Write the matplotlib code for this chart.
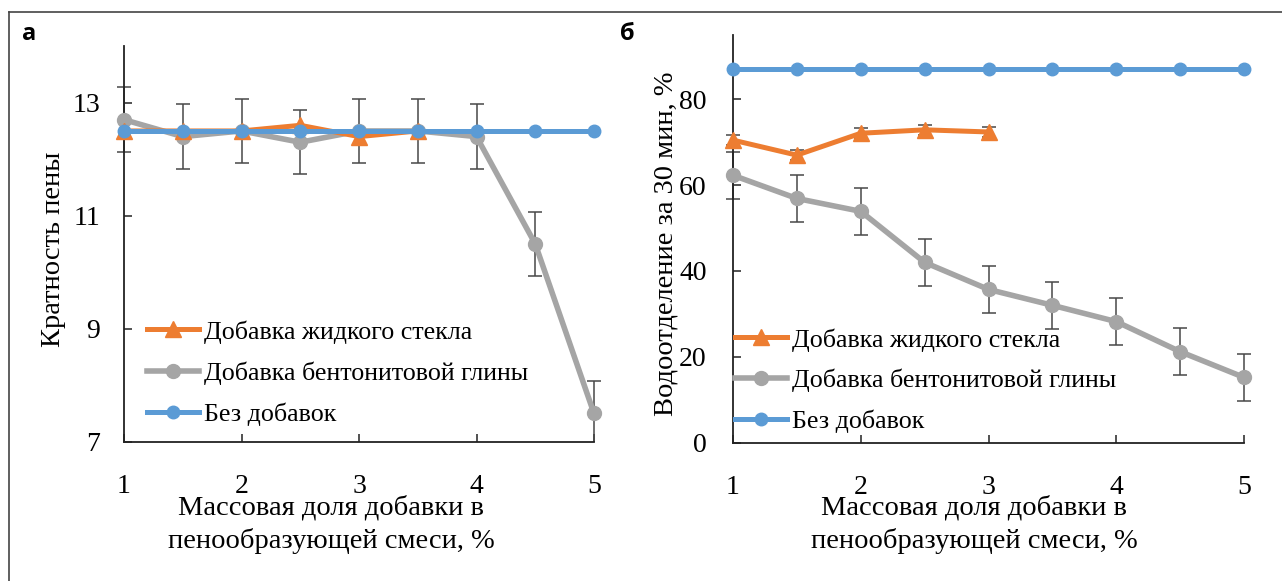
import matplotlib
matplotlib.use("Agg")
import matplotlib.pyplot as plt
from matplotlib.lines import Line2D
from matplotlib.patches import Rectangle
import numpy as np

plt.rcParams['font.family'] = 'serif'
plt.rcParams['font.serif'] = ['Liberation Serif', 'Times New Roman', 'DejaVu Serif']

W, H = 1282, 581
DPI = 100

# ---------------- data ----------------
x_all = [1, 1.5, 2, 2.5, 3, 3.5, 4, 4.5, 5]

# panel a: foam expansion ratio
a_glass_x = [1, 1.5, 2, 2.5, 3, 3.5]
a_glass_y = [12.5, 12.5, 12.5, 12.6, 12.4, 12.5]
a_bent_y = [12.7, 12.4, 12.5, 12.3, 12.5, 12.5, 12.4, 10.5, 7.5]
a_bent_err = [0.57, 0.57, 0.57, 0.57, 0.57, 0.57, 0.57, 0.57, 0.57]
a_none_y = [12.5, 12.5, 12.5, 12.5, 12.5, 12.5, 12.5, 12.5, 12.5]

# panel b: water separation in 30 min, %
b_glass_x = [1, 1.5, 2, 2.5, 3]
b_glass_y = [70.5, 67.0, 72.1, 72.9, 72.4]
b_glass_err = [1.2, 1.2, 1.2, 1.2, 1.2]
b_bent_y = [62.3, 56.9, 53.9, 42.0, 35.7, 32.0, 28.2, 21.2, 15.2]
b_bent_err = [5.5, 5.5, 5.5, 5.5, 5.5, 5.5, 5.5, 5.5, 5.5]
b_none_y = [87, 87, 87, 87, 87, 87, 87, 87, 87]

labels = ['Добавка жидкого стекла', 'Добавка бентонитовой глины', 'Без добавок']
xticks = [1, 2, 3, 4, 5]
a_yticks = [7, 9, 11, 13]
b_yticks = [0, 20, 40, 60, 80]
xlabel = 'Массовая доля добавки в\nпенообразующей смеси, %'
a_ylabel = 'Кратность пены'
b_ylabel = 'Водоотделение за 30 мин, %'

C_ORANGE = '#ED7D31'
C_GRAY = '#A5A5A5'
C_BLUE = '#5B9BD5'
C_ERR = '#484848'

fig = plt.figure(figsize=(W / DPI, H / DPI), dpi=DPI)


def ax_rect(x0, x1, ytop, ybot):
    return [x0 / W, 1 - ybot / H, (x1 - x0) / W, (ybot - ytop) / H]


def clip_all(ax, artists):
    rect = Rectangle((-0.05, 0.0), 1.1, 1.1, transform=ax.transAxes,
                     facecolor='none', edgecolor='none')
    for art in artists:
        art.set_clip_path(rect)


def style_axes(ax, xlim, ylim, yticks, ypad):
    ax.set_xlim(*xlim)
    ax.set_ylim(*ylim)
    ax.set_xticks(xticks)
    ax.set_yticks(yticks)
    for s in ['top', 'right']:
        ax.spines[s].set_visible(False)
    for s in ['left', 'bottom']:
        ax.spines[s].set_linewidth(1.3)
        ax.spines[s].set_color('#222222')
    ax.tick_params(axis='both', direction='in', length=6, width=1.1,
                   color='#222222', labelsize=20)
    ax.tick_params(axis='x', pad=23)
    ax.tick_params(axis='y', pad=ypad)


def draw_panel(ax, glass_x, glass_y, glass_err, bent_y, bent_err, none_y):
    arts = []
    if glass_err is not None:
        eb = ax.errorbar(glass_x, glass_y, yerr=glass_err, fmt='none',
                         ecolor=C_ERR, elinewidth=1.1, capsize=4.7,
                         capthick=1.1, zorder=2)
        arts += list(eb.lines[1]) + list(eb.lines[2])
    eb = ax.errorbar(x_all, bent_y, yerr=bent_err, fmt='none', ecolor=C_ERR,
                     elinewidth=1.1, capsize=4.7, capthick=1.1, zorder=2)
    arts += list(eb.lines[1]) + list(eb.lines[2])
    l2, = ax.plot(x_all, bent_y, color=C_GRAY, lw=4, marker='o', ms=10,
                  label=labels[1], zorder=3)
    l1, = ax.plot(glass_x, glass_y, color=C_ORANGE, lw=3.6, marker='^',
                  ms=11, label=labels[0], zorder=4)
    l3, = ax.plot(x_all, none_y, color=C_BLUE, lw=3.6, marker='o', ms=9,
                  label=labels[2], zorder=5)
    arts += [l1, l2, l3]
    clip_all(ax, arts)
    return [l1, l2, l3]


# ---- panel a ----
axa = fig.add_axes(ax_rect(124, 594, 46.2, 441.7))
style_axes(axa, (1, 5), (7, 14), a_yticks, 17)
ha = draw_panel(axa, a_glass_x, a_glass_y, None, a_bent_y, a_bent_err, a_none_y)
axa.set_ylabel(a_ylabel, fontsize=20.5)
axa.yaxis.set_label_coords((66 - 124) / 470, (441.7 - 249) / 395.5)
axa.set_xlabel(xlabel, fontsize=20.5, linespacing=1.38)
axa.xaxis.set_label_coords((331 - 124) / 470, (441.7 - 495) / 395.5)
axa.legend(ha, labels, loc='upper left', frameon=False, fontsize=18.7,
           bbox_to_anchor=((147 - 124) / 470, (441.7 - 320) / 395.5),
           borderpad=0, borderaxespad=0, handlelength=2.0,
           handletextpad=0.2, labelspacing=0.68)

# ---- panel b ----
axb = fig.add_axes(ax_rect(733, 1244, 35, 442.6))
style_axes(axb, (1, 5), (0, 95), b_yticks, 19)
hb = draw_panel(axb, b_glass_x, b_glass_y, b_glass_err, b_bent_y, b_bent_err, b_none_y)
axb.set_ylabel(b_ylabel, fontsize=20.5)
axb.yaxis.set_label_coords((678 - 733) / 511, (442.6 - 243.5) / 407.6)
axb.set_xlabel(xlabel, fontsize=20.5, linespacing=1.38)
axb.xaxis.set_label_coords((974 - 733) / 511, (442.6 - 495) / 407.6)
axb.legend(hb, labels, loc='upper left', frameon=False, fontsize=18.7,
           bbox_to_anchor=((735 - 733) / 511, (442.6 - 328) / 407.6),
           borderpad=0, borderaxespad=0, handlelength=2.0,
           handletextpad=0.2, labelspacing=0.66)

# ---- panel letters and frame ----
fig.text(22 / W, 1 - 40 / H, 'а', family=['Open Sans', 'DejaVu Sans'],
         fontweight='bold', fontsize=17, ha='left', va='baseline')
fig.text(620 / W, 1 - 40 / H, 'б', family=['Open Sans', 'DejaVu Sans'],
         fontweight='bold', fontsize=17, ha='left', va='baseline')
fig.add_artist(Line2D([9 / W, 1], [1 - 12 / H, 1 - 12 / H],
                      transform=fig.transFigure, color='#444444', lw=1.2))
fig.add_artist(Line2D([9 / W, 9 / W], [0, 1 - 12 / H],
                      transform=fig.transFigure, color='#444444', lw=1.2))

fig.savefig('out.png', dpi=DPI)
